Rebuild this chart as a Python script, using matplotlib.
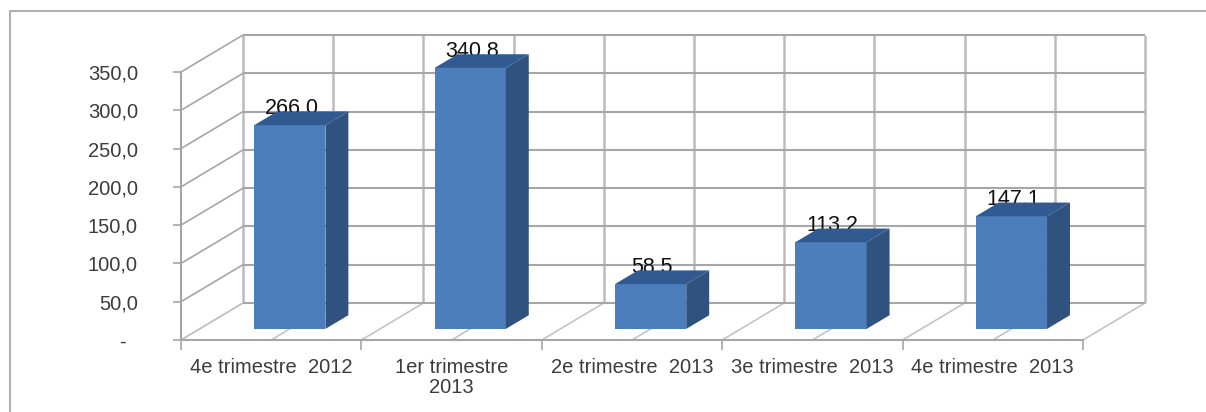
"""
Histogramme 3D par trimestre, refait avec une projection oblique simple.
"""

import matplotlib
matplotlib.use("Agg")
import matplotlib.pyplot as plt
from matplotlib.lines import Line2D
from matplotlib.patches import Polygon

plt.rcParams["font.family"] = ["Liberation Sans", "DejaVu Sans"]

# ── données ──────────────────────────────────
CATEGORIES = ["4e trimestre  2012", "1er trimestre\n2013", "2e trimestre  2013",
              "3e trimestre  2013", "4e trimestre  2013"]
VALUES = [266.0, 340.8, 58.5, 113.2, 147.1]
Y_TICKS = [0, 50, 100, 150, 200, 250, 300, 350]

W, H = 1206, 412
GRID = "#a6a6a6"
GRID_V = "#bcbcbc"
FLOOR = "#c4c4c4"
TEXT = "#3c3c3c"
FRONT = "#4c7ebb"
SIDE = "#30527f"
TOP = "#305a90"

fig = plt.figure(figsize=(W / 100, H / 100), dpi=100)
fig.patch.set_facecolor("white")

# cadre extérieur : seulement à gauche et en haut
frame_x = [10 / W, 10 / W, 1.0]
frame_y = [0.0, 1 - 10.5 / H, 1 - 10.5 / H]
fig.add_artist(Line2D(frame_x, frame_y, transform=fig.transFigure, color="#b0b0b0", linewidth=1.5))

# axe de 181 à 1083 px en x, de 340 à 72 px en y
ax = fig.add_axes([181 / W, (H - 340) / H, 902 / W, 268 / H])
ax.set_xlim(0, 5)
ax.set_ylim(0, 350)
ax.patch.set_alpha(0)

# décalage de profondeur en unités de données
DX = 62 / (902 / 5)
DY = 37 / (268 / 350)


def proj(x, y, d):
    """Projection oblique : d=0 devant, d=1 au fond."""
    return x + d * DX, y + d * DY


def line(p0, p1, lw=1.5, color=GRID, z=1):
    ax.plot([p0[0], p1[0]], [p0[1], p1[1]], color=color, linewidth=lw,
            clip_on=False, zorder=z, solid_capstyle="butt")


# murs et sol
for i in range(11):
    x = i / 2
    line(proj(x, 0, 1), proj(x, 350, 1), lw=1.8, color=GRID_V)
    line(proj(x, 0, 0), proj(x, 0, 1), lw=1.2, color=FLOOR)
for v in Y_TICKS:
    line(proj(0, v, 0), proj(0, v, 1), lw=1.2, color=FLOOR if v == 0 else GRID)
    line(proj(0, v, 1), proj(5, v, 1))

# barres
BAR_W = 0.395
D0, D1 = 0.30, 0.67
for i, v in enumerate(VALUES):
    x0 = i + 0.5 - BAR_W / 2
    x1 = x0 + BAR_W
    label_x = proj(i + 0.51, v, D0)[0]
    label_y = proj(i + 0.51, v, D1 - 0.07)[1]
    ax.text(label_x, label_y, f"{v:.1f}".replace(".", ","), fontsize=15.5,
            color="#111111", ha="center", va="baseline", zorder=3, clip_on=False)
    ax.add_patch(Polygon([proj(x0, 0, D0), proj(x1, 0, D0), proj(x1, v, D0), proj(x0, v, D0)],
                         closed=True, facecolor=FRONT, edgecolor="none", zorder=5, clip_on=False))
    ax.add_patch(Polygon([proj(x1, 0, D0), proj(x1, 0, D1), proj(x1, v, D1), proj(x1, v, D0)],
                         closed=True, facecolor=SIDE, edgecolor="none", zorder=5, clip_on=False))
    ax.add_patch(Polygon([proj(x0, v, D0), proj(x1, v, D0), proj(x1, v, D1), proj(x0, v, D1)],
                         closed=True, facecolor=TOP, edgecolor="none", zorder=5, clip_on=False))

# axes
for name in ["top", "right"]:
    ax.spines[name].set_visible(False)
for name in ["left", "bottom"]:
    ax.spines[name].set_color(GRID)
    ax.spines[name].set_linewidth(1.5)

ax.set_yticks(Y_TICKS)
ax.set_yticklabels([f"{v:.1f}".replace(".", ",") if v else "-  " for v in Y_TICKS],
                   fontsize=14.5, color=TEXT)
ax.tick_params(axis="y", length=6, width=1.2, color=GRID, pad=25)

ax.set_xticks(range(6))
ax.set_xticklabels([])
ax.set_xticks([i + 0.5 for i in range(5)], minor=True)
ax.set_xticklabels(CATEGORIES, minor=True, fontsize=14.5, color=TEXT, linespacing=1.08)
ax.tick_params(axis="x", which="major", length=7, width=1.2, color=GRID)
ax.tick_params(axis="x", which="minor", length=0, pad=13)

fig.savefig("out.png", dpi=100)
